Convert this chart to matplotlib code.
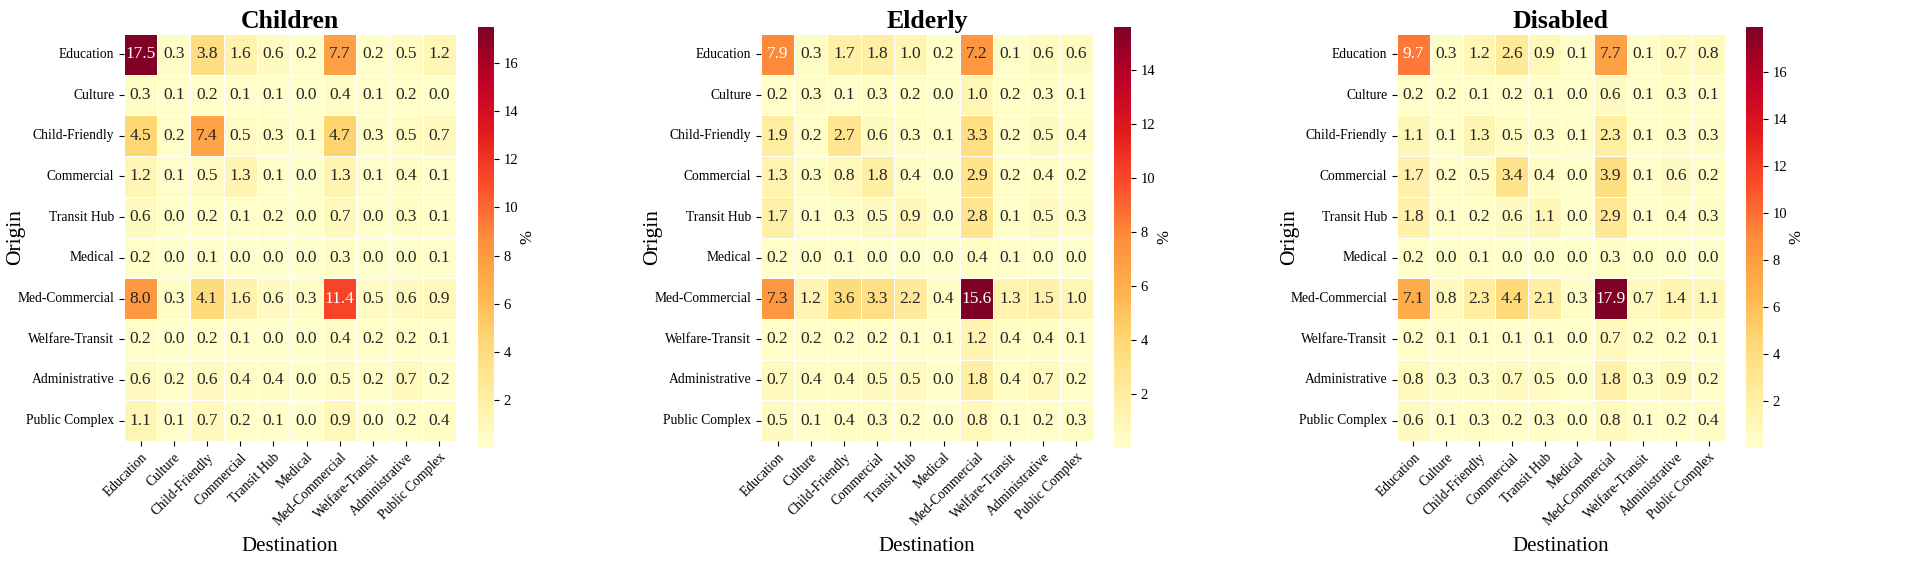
import numpy as np
import matplotlib
matplotlib.use("Agg")
import matplotlib.pyplot as plt
import seaborn as sns

plt.rcParams['font.family'] = ['Liberation Serif', 'DejaVu Serif']

# категории (origin / destination одинаковые)
categories = ["Education", "Culture", "Child-Friendly", "Commercial", "Transit Hub",
              "Medical", "Med-Commercial", "Welfare-Transit", "Administrative", "Public Complex"]

children = [
    [17.5, 0.3, 3.8, 1.6, 0.6, 0.2, 7.7, 0.2, 0.5, 1.2],
    [0.3, 0.1, 0.2, 0.1, 0.1, 0.0, 0.4, 0.1, 0.2, 0.0],
    [4.5, 0.2, 7.4, 0.5, 0.3, 0.1, 4.7, 0.3, 0.5, 0.7],
    [1.2, 0.1, 0.5, 1.3, 0.1, 0.0, 1.3, 0.1, 0.4, 0.1],
    [0.6, 0.0, 0.2, 0.1, 0.2, 0.0, 0.7, 0.0, 0.3, 0.1],
    [0.2, 0.0, 0.1, 0.0, 0.0, 0.0, 0.3, 0.0, 0.0, 0.1],
    [8.0, 0.3, 4.1, 1.6, 0.6, 0.3, 11.4, 0.5, 0.6, 0.9],
    [0.2, 0.0, 0.2, 0.1, 0.0, 0.0, 0.4, 0.2, 0.2, 0.1],
    [0.6, 0.2, 0.6, 0.4, 0.4, 0.0, 0.5, 0.2, 0.7, 0.2],
    [1.1, 0.1, 0.7, 0.2, 0.1, 0.0, 0.9, 0.0, 0.2, 0.4],
]

elderly = [
    [7.9, 0.3, 1.7, 1.8, 1.0, 0.2, 7.2, 0.1, 0.6, 0.6],
    [0.2, 0.3, 0.1, 0.3, 0.2, 0.0, 1.0, 0.2, 0.3, 0.1],
    [1.9, 0.2, 2.7, 0.6, 0.3, 0.1, 3.3, 0.2, 0.5, 0.4],
    [1.3, 0.3, 0.8, 1.8, 0.4, 0.0, 2.9, 0.2, 0.4, 0.2],
    [1.7, 0.1, 0.3, 0.5, 0.9, 0.0, 2.8, 0.1, 0.5, 0.3],
    [0.2, 0.0, 0.1, 0.0, 0.0, 0.0, 0.4, 0.1, 0.0, 0.0],
    [7.3, 1.2, 3.6, 3.3, 2.2, 0.4, 15.6, 1.3, 1.5, 1.0],
    [0.2, 0.2, 0.2, 0.2, 0.1, 0.1, 1.2, 0.4, 0.4, 0.1],
    [0.7, 0.4, 0.4, 0.5, 0.5, 0.0, 1.8, 0.4, 0.7, 0.2],
    [0.5, 0.1, 0.4, 0.3, 0.2, 0.0, 0.8, 0.1, 0.2, 0.3],
]

disabled = [
    [9.7, 0.3, 1.2, 2.6, 0.9, 0.1, 7.7, 0.1, 0.7, 0.8],
    [0.2, 0.2, 0.1, 0.2, 0.1, 0.0, 0.6, 0.1, 0.3, 0.1],
    [1.1, 0.1, 1.3, 0.5, 0.3, 0.1, 2.3, 0.1, 0.3, 0.3],
    [1.7, 0.2, 0.5, 3.4, 0.4, 0.0, 3.9, 0.1, 0.6, 0.2],
    [1.8, 0.1, 0.2, 0.6, 1.1, 0.0, 2.9, 0.1, 0.4, 0.3],
    [0.2, 0.0, 0.1, 0.0, 0.0, 0.0, 0.3, 0.0, 0.0, 0.0],
    [7.1, 0.8, 2.3, 4.4, 2.1, 0.3, 17.9, 0.7, 1.4, 1.1],
    [0.2, 0.1, 0.1, 0.1, 0.1, 0.0, 0.7, 0.2, 0.2, 0.1],
    [0.8, 0.3, 0.3, 0.7, 0.5, 0.0, 1.8, 0.3, 0.9, 0.2],
    [0.6, 0.1, 0.3, 0.2, 0.3, 0.0, 0.8, 0.1, 0.2, 0.4],
]

groups = ["Children", "Elderly", "Disabled"]
matrices = [children, elderly, disabled]

W, H = 1927, 568
fig = plt.figure(figsize=(W / 100, H / 100), dpi=100)

# положения в пикселях: (left, right) heatmap, (left, right) colorbar
heat_x = [(124, 456), (761, 1093), (1397, 1725)]
cbar_x = [(478, 494), (1114, 1131), (1746, 1763)]
heat_y = (34, 441)
cbar_y = (27, 448)


def px_rect(x0, x1, y0, y1):
    return [x0 / W, 1 - y1 / H, (x1 - x0) / W, (y1 - y0) / H]


for i, (name, mat) in enumerate(zip(groups, matrices)):
    ax = fig.add_axes(px_rect(*heat_x[i], *heat_y))
    cax = fig.add_axes(px_rect(*cbar_x[i], *cbar_y))
    data = np.array(mat)
    sns.heatmap(data, ax=ax, cbar_ax=cax, cmap="YlOrRd", annot=True, fmt=".1f",
                annot_kws={"size": 12.5}, linewidths=0.5, linecolor="white",
                xticklabels=categories, yticklabels=categories,
                vmin=data.min(), vmax=data.max())
    ax.set_title(name, fontsize=18.5, fontweight="bold", pad=4)
    ax.set_xlabel("Destination", fontsize=15)
    ax.set_ylabel("Origin", fontsize=15.5)
    ax.xaxis.set_label_coords(0.5, -0.236)
    ax.yaxis.set_label_coords(-0.297, 0.5)
    ax.set_xticklabels(categories, rotation=45, ha="right", rotation_mode="anchor", fontsize=9.8)
    ax.set_yticklabels(categories, rotation=0, fontsize=9.8)
    cax.set_yticks(np.arange(2, data.max(), 2))
    cax.tick_params(labelsize=10.5)
    cax.set_ylabel("%", fontsize=12, labelpad=1)

fig.savefig("out.png", dpi=100)
